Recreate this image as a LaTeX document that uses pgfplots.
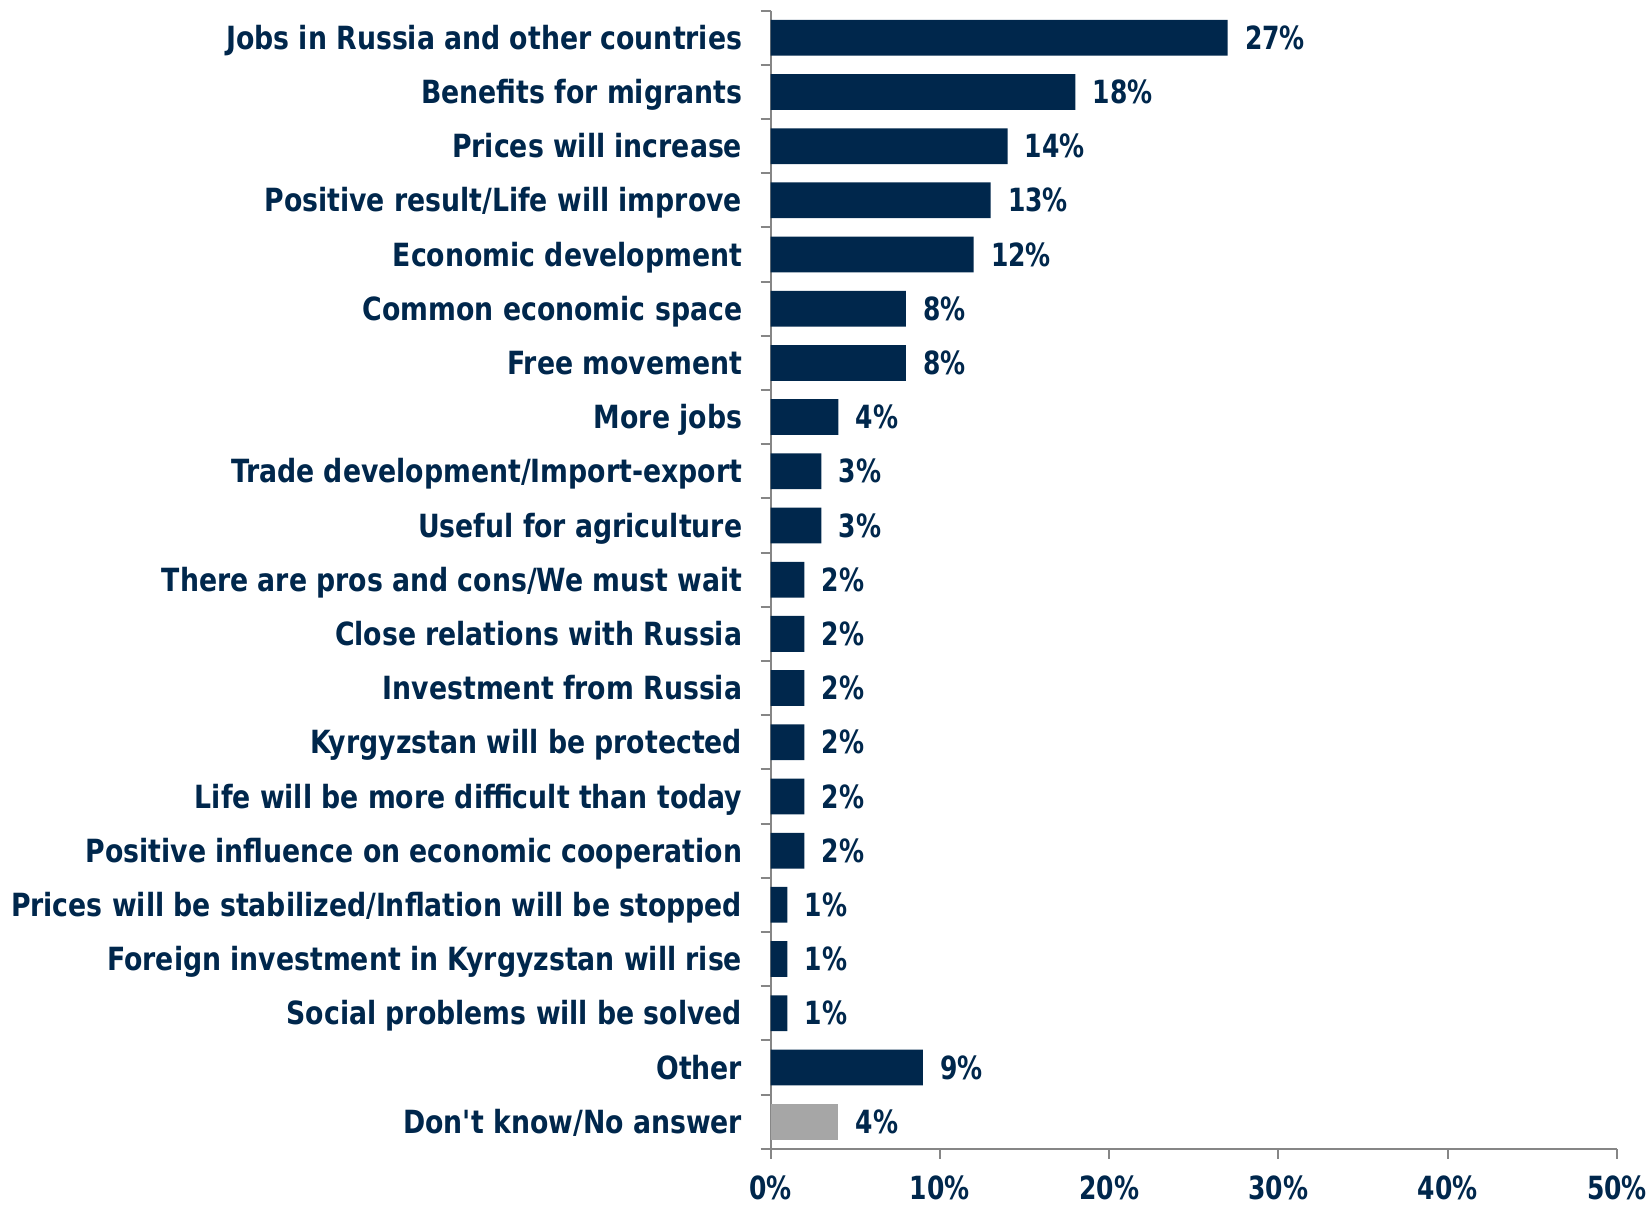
\documentclass[border=0pt]{standalone}
\usepackage{fontspec}
\setmainfont{DejaVu Sans Condensed}[FakeStretch=0.93]
\newfontfamily\numfont{DejaVu Sans Condensed}[FakeStretch=0.87]
\usepackage{pgfplots}
\pgfplotsset{compat=1.18}
\definecolor{navy}{RGB}{0,39,76}
\definecolor{barg}{RGB}{166,166,166}
\definecolor{axg}{RGB}{134,134,134}
\newcommand{\lblfont}{\fontsize{9.6}{11}\selectfont\bfseries}
\newcommand{\nfont}{\fontsize{9.6}{11}\selectfont\numfont\bfseries}
\begin{document}
\begin{tikzpicture}
\begin{axis}[
 scale only axis, width=254.4pt, height=342pt,
 xmin=0, xmax=50, ymin=-0.5, ymax=20.5, y dir=reverse,
 axis lines*=left, axis line style={draw=axg, line width=0.6pt},
 tick align=outside, tick style={draw=axg, line width=0.6pt}, major tick length=3pt,
 xtick={0,10,...,50}, xticklabels={0\%,10\%,20\%,30\%,40\%,50\%},
 ytick={-0.5,0.5,...,20.5}, y tick label as interval,
 yticklabels={Jobs in Russia and other countries,Benefits for migrants,Prices will increase,Positive result/Life will improve,Economic development,Common economic space,Free movement,More jobs,Trade development/Import-export,Useful for agriculture,There are pros and cons/We must wait,Close relations with Russia,Investment from Russia,Kyrgyzstan will be protected,Life will be more difficult than today,Positive influence on economic cooperation,Prices will be stabilized/Inflation will be stopped,Foreign investment in Kyrgyzstan will rise,Social problems will be solved,Other,Don\textquotesingle t know/No answer},
 tick label style={font=\lblfont, text=navy},
 xticklabel style={font=\nfont, inner xsep=1.5pt, inner ysep=2.5pt, yshift=-2.3pt},
 yticklabel style={anchor=base east, yshift=-3.5pt, xshift=-2pt},
 bar width=0.66,
 point meta=x,
 nodes near coords={\pgfmathprintnumber[assume math mode=true]{\pgfplotspointmeta}\%},
 nodes near coords style={font=\nfont, text=navy, anchor=base west, yshift=-3.5pt, xshift=1.7pt},
 clip=false,
]
\addplot[xbar, bar shift=0pt, fill=navy, draw=none] coordinates {
(27,0) (18,1) (14,2) (13,3) (12,4) (8,5) (8,6) (4,7) (3,8) (3,9)
(2,10) (2,11) (2,12) (2,13) (2,14) (2,15) (1,16) (1,17) (1,18) (9,19)};
\addplot[xbar, bar shift=0pt, fill=barg, draw=none] coordinates {(4,20)};
\path (axis cs:0,-0.5) ++(0pt,3.2pt);
\end{axis}
\end{tikzpicture}
\end{document}
